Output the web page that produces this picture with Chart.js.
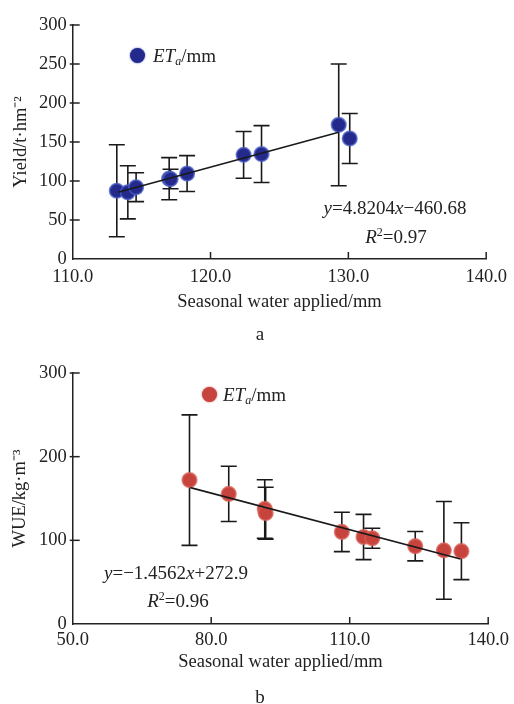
<!DOCTYPE html>
<html><head><meta charset="utf-8">
<script src="https://cdn.jsdelivr.net/npm/chart.js@4"></script>
<style>
html,body{margin:0;padding:0;background:#fff;width:514px;height:704px;overflow:hidden;font-family:"Liberation Serif","Times New Roman",serif;color:#222}
.box{position:absolute;left:0;width:514px}
#boxA{top:0;height:340px}
#boxB{top:340px;height:364px}
.txt{position:absolute;white-space:nowrap;font-size:19px;line-height:1;transform:translate(-50%,-50%)}
.leg{position:absolute;white-space:nowrap;font-size:19px;line-height:1;transform:translateY(-50%)}
.dot{position:absolute;width:15px;height:15px;border-radius:50%}
sub{font-size:12px;vertical-align:-3px;line-height:0}
sup{font-size:12px;vertical-align:7px;line-height:0}
</style>
</head>
<body>
<div class="box" id="boxA"><canvas id="chartA"></canvas></div>
<div class="box" id="boxB"><canvas id="chartB"></canvas></div>

<div class="dot" style="left:129.5px;top:47.5px;background:#232a8c;box-shadow:0 0 2px #4a5cc4"></div>
<div class="leg" style="left:153px;top:55px"><i>ET</i><sub><i>a</i></sub>/mm</div>
<div class="txt" style="left:395px;top:207px"><i>y</i>=4.8204<i>x</i>−460.68</div>
<div class="txt" style="left:396px;top:236px"><i>R</i><sup>2</sup>=0.97</div>
<div class="txt" style="left:260px;top:333px">a</div>

<div class="dot" style="left:201.5px;top:386.5px;background:#c7433d;box-shadow:0 0 2px #d75a50"></div>
<div class="leg" style="left:223px;top:394px"><i>ET</i><sub><i>a</i></sub>/mm</div>
<div class="txt" style="left:176px;top:572px"><i>y</i>=−1.4562<i>x</i>+272.9</div>
<div class="txt" style="left:178px;top:600px"><i>R</i><sup>2</sup>=0.96</div>
<div class="txt" style="left:260px;top:696px">b</div>

<script>
// ---- Chart a: Yield vs seasonal water applied ----
const yieldWater = [113.2, 114.0, 114.6, 117.0, 117.1, 118.3, 122.4, 123.7, 129.3, 130.1];
const yieldValues = [87.5, 85.5, 92, 103, 102.5, 109.5, 133.5, 134.5, 172, 154.5];
const yieldErrors = [59, 34, 18.5, 27, 12.5, 23, 30, 36.5, 78, 32];
const yieldTrendX = [113.3, 129.3];
const yieldTrendY = [85.5, 162.6];
const yieldXTicks = [110, 120, 130, 140];
const yieldYTicks = [0, 50, 100, 150, 200, 250, 300];

// ---- Chart b: WUE vs seasonal water applied ----
const wueWater = [75.3, 83.8, 91.6, 91.8, 108.3, 113.0, 114.9, 124.2, 130.4, 134.2];
const wueValues = [172, 155.5, 137.5, 132.5, 110, 104, 102.5, 93, 88, 87];
const wueErrors = [78, 33, 35, 31, 23.5, 27, 12, 17.5, 58.5, 34];
const wueTrendX = [75.5, 134.0];
const wueTrendY = [163.0, 77.8];
const wueXTicks = [50, 80, 110, 140];
const wueYTicks = [0, 100, 200, 300];

const FONT = {family: '"Liberation Serif","Times New Roman",serif', size: 18.5};
const INK = '#222';

const errorBarPlugin = {
  id: 'errorBars',
  beforeDatasetsDraw(chart, args, opts) {
    const ctx = chart.ctx, xs = chart.scales.x, ys = chart.scales.y;
    const ds = chart.data.datasets[0];
    const errs = opts.errors;
    ctx.save();
    ctx.strokeStyle = '#1a1a1a';
    ctx.lineWidth = 1.6;
    ds.data.forEach((p, i) => {
      const x = xs.getPixelForValue(p.x);
      const y1 = ys.getPixelForValue(p.y + errs[i]);
      const y2 = ys.getPixelForValue(p.y - errs[i]);
      ctx.beginPath();
      ctx.moveTo(x, y1); ctx.lineTo(x, y2);
      ctx.moveTo(x - 8, y1); ctx.lineTo(x + 8, y1);
      ctx.moveTo(x - 8, y2); ctx.lineTo(x + 8, y2);
      ctx.stroke();
    });
    ctx.restore();
  }
};

const inwardTicks = {
  id: 'inwardTicks',
  afterDraw(chart) {
    const ctx = chart.ctx, xs = chart.scales.x, ys = chart.scales.y;
    const a = chart.chartArea;
    ctx.save();
    ctx.strokeStyle = INK;
    ctx.lineWidth = 1.5;
    xs.ticks.forEach((t, i) => {
      if (i === 0) return;
      const x = xs.getPixelForValue(t.value);
      ctx.beginPath(); ctx.moveTo(x, a.bottom); ctx.lineTo(x, a.bottom - 7); ctx.stroke();
    });
    ys.ticks.forEach((t, i) => {
      if (i === 0) return;
      const y = ys.getPixelForValue(t.value);
      ctx.beginPath(); ctx.moveTo(a.left - 3, y); ctx.lineTo(a.left + 7, y); ctx.stroke();
    });
    ctx.restore();
  }
};

function makeChart(id, cfg) {
  const pts = cfg.xs.map((x, i) => ({x: x, y: cfg.ys[i]}));
  const trend = cfg.tx.map((x, i) => ({x: x, y: cfg.ty[i]}));
  return new Chart(document.getElementById(id), {
    type: 'scatter',
    data: {
      datasets: [
        {data: pts, order: 1, pointRadius: 7.2, pointHoverRadius: 7.2,
         backgroundColor: cfg.fill, borderColor: cfg.edge, borderWidth: 1.8},
        {data: trend, order: 0, showLine: true, pointRadius: 0, borderColor: '#1a1a1a',
         borderWidth: 1.6, fill: false}
      ]
    },
    options: {
      responsive: true, maintainAspectRatio: false, animation: false,
      layout: {autoPadding: false, padding: {top: cfg.padTop, right: 24, left: 0, bottom: 0}},
      plugins: {legend: {display: false}, tooltip: {enabled: false},
                errorBars: {errors: cfg.errs}},
      scales: {
        x: {
          type: 'linear', min: cfg.xTicks[0], max: cfg.xTicks[cfg.xTicks.length - 1],
          afterBuildTicks: s => { s.ticks = cfg.xTicks.map(v => ({value: v})); },
          afterFit: s => { s.height = cfg.xHeight; },
          grid: {display: false, drawTicks: false},
          border: {display: true, color: INK, width: 1.5},
          ticks: {color: INK, font: FONT, padding: cfg.xTickPad, maxRotation: 0,
                  callback: v => Number(v).toFixed(1)},
          title: {display: true, text: 'Seasonal water applied/mm', color: INK, font: FONT,
                  padding: {top: 0, bottom: cfg.xTitlePad}}
        },
        y: {
          type: 'linear', min: cfg.yTicks[0], max: cfg.yTicks[cfg.yTicks.length - 1],
          afterBuildTicks: s => { s.ticks = cfg.yTicks.map(v => ({value: v})); },
          afterFit: s => { s.width = 72.7; },
          grid: {display: false, drawTicks: false},
          border: {display: true, color: INK, width: 1.5},
          ticks: {color: INK, font: FONT, padding: 6, callback: v => String(v)},
          title: {display: true, text: cfg.yTitle, color: INK, font: FONT,
                  padding: {top: cfg.yTitlePad, bottom: 0}}
        }
      }
    },
    plugins: [errorBarPlugin, inwardTicks]
  });
}

makeChart('chartA', {
  xs: yieldWater, ys: yieldValues, errs: yieldErrors, tx: yieldTrendX, ty: yieldTrendY,
  xTicks: yieldXTicks, yTicks: yieldYTicks, yTitle: 'Yield/t·hm⁻²',
  fill: '#232a8c', edge: 'rgba(74,92,196,0.75)',
  padTop: 25, xHeight: 81, xTickPad: 7, xTitlePad: 27, yTitlePad: 10
});
makeChart('chartB', {
  xs: wueWater, ys: wueValues, errs: wueErrors, tx: wueTrendX, ty: wueTrendY,
  xTicks: wueXTicks, yTicks: wueYTicks, yTitle: 'WUE/kg·m⁻³',
  fill: '#c7433d', edge: 'rgba(215,95,85,0.75)',
  padTop: 33, xHeight: 80, xTickPad: 5, xTitlePad: 30.6, yTitlePad: 9
});
</script>
</body></html>
